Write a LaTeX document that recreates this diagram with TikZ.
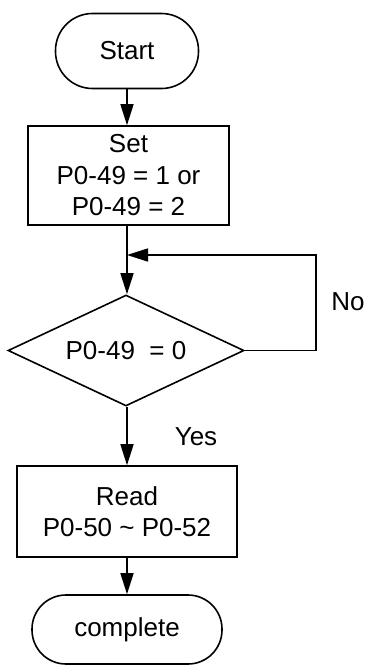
\documentclass[tikz,border=0pt]{standalone}
\usepackage{fontspec}
\setmainfont{Liberation Sans}
\usetikzlibrary{arrows.meta,shapes.geometric}
\begin{document}
\begin{tikzpicture}[x=1pt,y=1pt,
    every node/.style={font=\fontsize{26}{31.5}\selectfont},
    box/.style={draw,line width=1.6pt,align=center,inner sep=0pt},
    term/.style={box,rounded corners=#1},
    flow/.style={line width=1.6pt,-{Triangle[length=21pt,width=13pt]}}]
  \def\midX{127}

  % Canvas
  \useasboundingbox (0,0) rectangle (367,-667);

  % Nodes
  \node[term=37pt,minimum width=143pt,minimum height=75pt] (start) at (\midX,-51) {Start};
  \node[box,minimum width=201pt,minimum height=99pt] (set) at (128.5,-175.5) {Set\\P0-49 = 1 or\\P0-49 = 2};
  \node[box,diamond,aspect=2.13,minimum width=236pt,minimum height=111pt] (check) at (126,-350.5) {P0-49~ = 0};
  \node[box,minimum width=220pt,minimum height=91pt] (read) at (\midX,-511.5) {Read\\P0-50 \textasciitilde{} P0-52};
  \node[term=34pt,minimum width=190pt,minimum height=69pt] (done) at (\midX,-629.5) {complete};

  % Loop points
  \coordinate (join) at (\midX,-255);
  \coordinate (loop) at (316,-255);

  % Connectors
  \draw[flow] (start.south -| \midX,0) -- (set.north -| \midX,0);
  \draw[flow] (set.south -| \midX,0) -- (check.north -| \midX,0);
  \draw[flow] (check.east) -| (loop) -- (join);
  \draw[flow] (check.south -| \midX,0) -- (read.north);
  \draw[flow] (read.south) -- (done.north);

  % Labels
  \node (no) at (348,-302) {No};
  \node (yes) at (196,-437) {Yes};
\end{tikzpicture}
\end{document}
